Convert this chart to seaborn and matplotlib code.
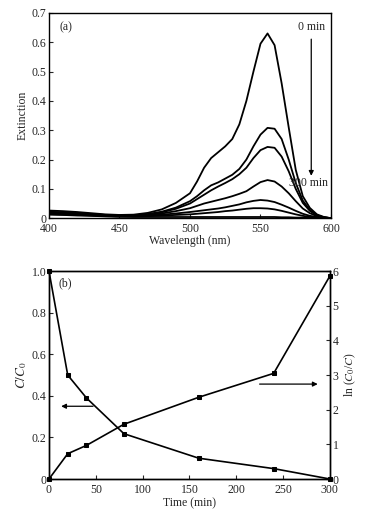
""" Extinction spectra and degradation kinetics, panels (a) and (b) """
import numpy as np
import pandas as pd
import matplotlib
matplotlib.use("Agg")
import matplotlib.pyplot as plt
from matplotlib.ticker import FuncFormatter, MultipleLocator
import seaborn as sns

# panel (a): spectra, one list per sampling time (0 min at top, 300 min at bottom)
wavelength = [400, 410, 420, 430, 440, 450, 460, 470, 480, 490, 500, 505, 510, 515, 520,
              525, 530, 535, 540, 545, 550, 555, 560, 565, 570, 575, 580, 585, 590, 595, 600]
ext_0 = [0.026, 0.024, 0.021, 0.017, 0.013, 0.011, 0.012, 0.018, 0.030, 0.052, 0.085, 0.125,
         0.172, 0.205, 0.225, 0.245, 0.270, 0.320, 0.400, 0.500, 0.595, 0.630, 0.590, 0.460,
         0.310, 0.165, 0.075, 0.035, 0.013, 0.004, 0.000]
ext_20 = [0.022, 0.020, 0.018, 0.014, 0.011, 0.009, 0.010, 0.014, 0.022, 0.036, 0.058, 0.075,
          0.095, 0.112, 0.122, 0.135, 0.148, 0.168, 0.200, 0.245, 0.285, 0.308, 0.305, 0.270,
          0.200, 0.120, 0.060, 0.028, 0.010, 0.003, 0.000]
ext_40 = [0.020, 0.018, 0.016, 0.013, 0.010, 0.008, 0.009, 0.013, 0.020, 0.032, 0.050, 0.065,
          0.080, 0.095, 0.108, 0.120, 0.133, 0.150, 0.172, 0.205, 0.232, 0.243, 0.240, 0.210,
          0.160, 0.100, 0.052, 0.025, 0.009, 0.003, 0.000]
ext_80 = [0.018, 0.016, 0.014, 0.011, 0.009, 0.007, 0.008, 0.011, 0.016, 0.024, 0.034, 0.042,
          0.050, 0.056, 0.062, 0.068, 0.075, 0.083, 0.092, 0.108, 0.123, 0.130, 0.125, 0.108,
          0.085, 0.058, 0.033, 0.017, 0.007, 0.002, 0.000]
ext_160 = [0.016, 0.014, 0.012, 0.010, 0.008, 0.006, 0.007, 0.009, 0.012, 0.016, 0.021, 0.024,
           0.027, 0.030, 0.033, 0.037, 0.042, 0.047, 0.054, 0.059, 0.062, 0.060, 0.055, 0.046,
           0.036, 0.025, 0.015, 0.008, 0.004, 0.001, 0.000]
ext_240 = [0.014, 0.012, 0.011, 0.009, 0.007, 0.006, 0.006, 0.007, 0.009, 0.011, 0.013, 0.015,
           0.017, 0.019, 0.021, 0.024, 0.026, 0.029, 0.032, 0.034, 0.034, 0.033, 0.030, 0.025,
           0.019, 0.013, 0.008, 0.004, 0.002, 0.001, 0.000]
ext_300 = [0.012, 0.011, 0.009, 0.008, 0.006, 0.005, 0.004, 0.004, 0.004, 0.004, 0.004, 0.004,
           0.004, 0.004, 0.004, 0.004, 0.004, 0.004, 0.004, 0.004, 0.004, 0.004, 0.004, 0.003,
           0.003, 0.002, 0.002, 0.001, 0.001, 0.000, 0.000]
spectra = [ext_0, ext_20, ext_40, ext_80, ext_160, ext_240, ext_300]

# panel (b): kinetics
time_min = [0, 20, 40, 80, 160, 240, 300]
c_ratio = [1.0, 0.50, 0.39, 0.218, 0.10, 0.05, 0.0]
ln_ratio = [0.0, 0.73, 0.97, 1.58, 2.36, 3.05, 5.86]

sns.set_theme(style="ticks")
plt.rcParams["font.family"] = ["Liberation Serif", "DejaVu Serif"]
plt.rcParams["mathtext.fontset"] = "stix"
plt.rcParams["xtick.direction"] = "in"
plt.rcParams["ytick.direction"] = "in"
fs = 8.5

fig = plt.figure(figsize=(3.74, 5.17), dpi=100)
ax_a = fig.add_axes([0.131, 0.578, 0.754, 0.397])
ax_b = fig.add_axes([0.131, 0.0735, 0.751, 0.402])

def fmt_zero(v, pos, dec=1):
    if abs(v) < 1e-9:
        return "0"
    return f"{v:.{dec}f}"

# ---- (a)
for ext in spectra:
    sns.lineplot(x=wavelength, y=ext, ax=ax_a, color="black", lw=1.3)
ax_a.set_xlim(400, 600)
ax_a.set_ylim(0, 0.7)
ax_a.xaxis.set_major_locator(MultipleLocator(50))
ax_a.yaxis.set_major_locator(MultipleLocator(0.1))
ax_a.yaxis.set_major_formatter(FuncFormatter(fmt_zero))
ax_a.set_xlabel("Wavelength (nm)", fontsize=fs, labelpad=0)
ax_a.set_ylabel("Extinction", fontsize=fs, labelpad=2)
ax_a.text(412, 0.652, "(a)", fontsize=fs, ha="center", va="center")
ax_a.text(586, 0.652, "0 min", fontsize=fs, ha="center", va="center")
ax_a.text(584, 0.12, "300 min", fontsize=fs, ha="center", va="center")
ax_a.annotate("", xy=(586, 0.135), xytext=(586, 0.62),
              arrowprops=dict(arrowstyle="-|>", color="black", lw=0.9, mutation_scale=7))

# ---- (b)
sns.lineplot(x=time_min, y=c_ratio, ax=ax_b, color="black", lw=1.2, marker="s",
             markersize=3.3, markeredgecolor="black", clip_on=False)
ax_b.set_xlim(0, 300)
ax_b.set_ylim(0, 1.0)
ax_b.xaxis.set_major_locator(MultipleLocator(50))
ax_b.yaxis.set_major_locator(MultipleLocator(0.2))
ax_b.yaxis.set_major_formatter(FuncFormatter(fmt_zero))
ax_b.xaxis.set_major_formatter(FuncFormatter(lambda v, p: f"{v:.0f}"))
ax_b.set_xlabel("Time (min)", fontsize=fs, labelpad=1)
ax_b.set_ylabel(r"$C/C_0$", fontsize=fs + 1, labelpad=2)

ax_r = ax_b.twinx()
sns.lineplot(x=time_min, y=ln_ratio, ax=ax_r, color="black", lw=1.2, marker="s",
             markersize=3.3, markeredgecolor="black", clip_on=False)
ax_r.set_ylim(0, 6)
ax_r.yaxis.set_major_locator(MultipleLocator(1))
ax_r.yaxis.set_major_formatter(FuncFormatter(lambda v, p: f"{v:.0f}"))
ax_r.set_ylabel(r"ln ($C_0$/$C$)", fontsize=fs, labelpad=3)

ax_b.text(17, 0.94, "(b)", fontsize=fs, ha="center", va="center")
ax_b.annotate("", xy=(10, 0.35), xytext=(50, 0.35),
              arrowprops=dict(arrowstyle="-|>", color="black", lw=0.9, mutation_scale=7))
ax_r.annotate("", xy=(290, 2.74), xytext=(222, 2.74),
              arrowprops=dict(arrowstyle="-|>", color="black", lw=0.9, mutation_scale=7))

for ax in (ax_a, ax_b, ax_r):
    ax.tick_params(labelsize=fs, length=3, width=0.8, pad=2)
    ax.tick_params(axis="x", pad=3.5)
    for sp in ax.spines.values():
        sp.set_visible(True)
        sp.set_linewidth(1.0)
        sp.set_color("black")

fig.savefig("out.png", dpi=100)
